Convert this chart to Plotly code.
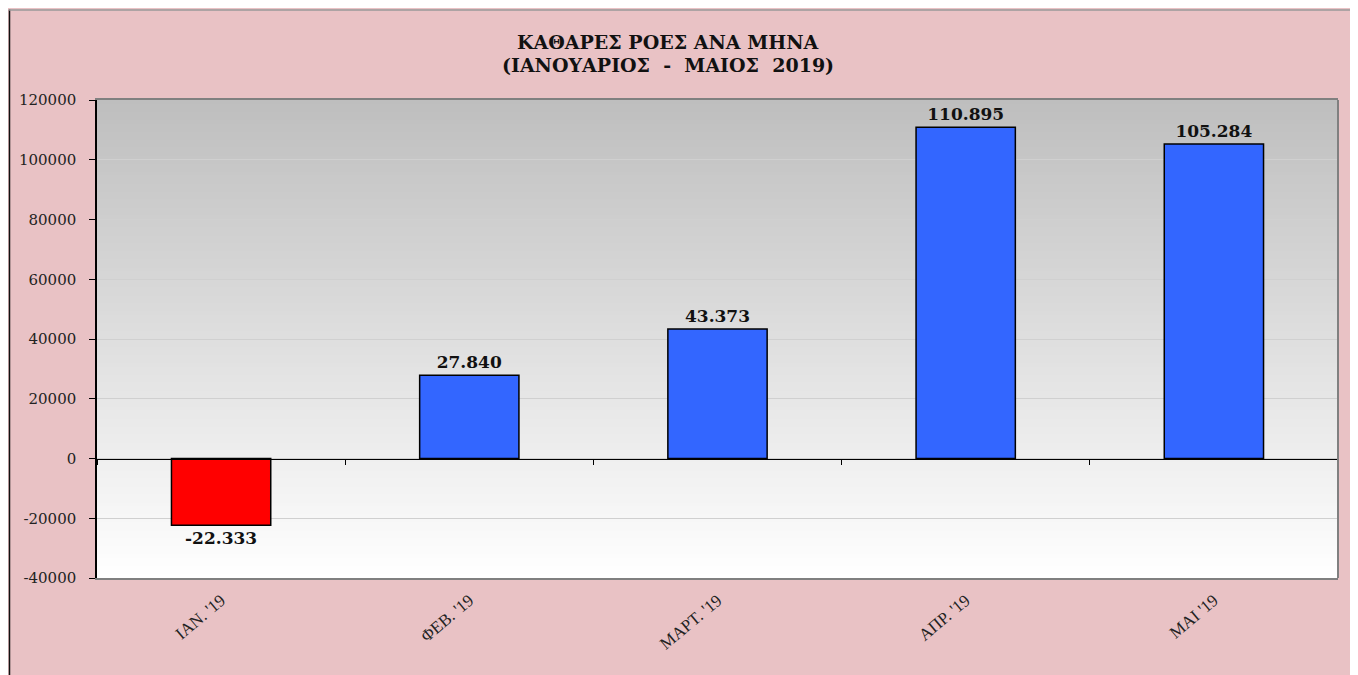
import plotly.graph_objects as go

# ---- data ----
months = ["ΙΑΝ. '19", "ΦΕΒ. '19", "ΜΑΡΤ. '19", "ΑΠΡ. '19", "ΜΑΙ '19"]
net_flows = [-22333, 27840, 43373, 110895, 105284]
y_tick_vals = [-40000, -20000, 0, 20000, 40000, 60000, 80000, 100000, 120000]
y_tick_text = ["-40000", "-20000", "0", "20000", "40000", "60000", "80000", "100000", "120000"]
title_lines = ["ΚΑΘΑΡΕΣ ΡΟΕΣ ΑΝΑ ΜΗΝΑ", "(ΙΑΝΟΥΑΡΙΟΣ  -  ΜΑΙΟΣ  2019)"]

W, H = 1358, 667
ML, MR, MT, MB = 89, 28, 92, 97
PW, PH = W - ML - MR, H - MT - MB

bar_colors = ["#FF0000" if v < 0 else "#3366FF" for v in net_flows]
labels = [f"{v:,}".replace(",", ".") for v in net_flows]

fig = go.Figure()
fig.add_trace(go.Bar(
    x=months, y=net_flows, width=0.4,
    marker=dict(color=bar_colors, line=dict(color="#000000", width=1.5)),
    text=labels, textposition="outside", cliponaxis=False,
    textfont=dict(family="DejaVu Serif", size=17, color="#111111", weight="bold"),
    hoverinfo="x+y", showlegend=False,
))
# invisible helper trace for the zero-line axis with boundary ticks
fig.add_trace(go.Scatter(x=months, y=[None] * len(months), xaxis="x2",
                         mode="markers", showlegend=False, hoverinfo="skip"))

px = lambda p: (p - ML) / PW          # figure px -> paper x
py = lambda p: (H - MB - p) / PH      # figure px -> paper y

shapes = []
# frame lines on the pink background
shapes.append(dict(type="line", xref="paper", yref="paper", layer="below",
                   x0=px(1.5), x1=px(1.5), y0=py(H), y1=py(1.5),
                   line=dict(color="#111111", width=1.5)))
shapes.append(dict(type="line", xref="paper", yref="paper", layer="below",
                   x0=px(1), x1=px(W), y0=py(2), y1=py(2),
                   line=dict(color="#999999", width=1.5)))
# plot-area vertical gradient (grey top -> white bottom)
N = 120
top, bot = (190, 190, 190), (255, 255, 255)
for i in range(N):
    f = (i + 0.5) / N
    c = tuple(round(bot[k] + (top[k] - bot[k]) * f) for k in range(3))
    shapes.append(dict(type="rect", xref="x domain", yref="y domain", layer="below",
                       x0=0, x1=1, y0=i / N, y1=(i + 1) / N + 0.002,
                       fillcolor="rgb(%d,%d,%d)" % c, line=dict(width=0)))
# right border of plot area
shapes.append(dict(type="line", xref="x domain", yref="y domain",
                   x0=1, x1=1, y0=0, y1=1, line=dict(color="#808080", width=2)))

title_font = dict(family="DejaVu Serif", size=19, color="#111111", weight="bold")
annotations = [
    dict(text=title_lines[0], xref="paper", yref="paper", x=px(660), y=py(34),
         xanchor="center", yanchor="middle", showarrow=False, font=title_font),
    dict(text=title_lines[1], xref="paper", yref="paper", x=px(660), y=py(57),
         xanchor="center", yanchor="middle", showarrow=False, font=title_font),
]

fig.update_layout(
    width=W, height=H,
    margin=dict(l=ML, r=MR, t=MT, b=MB),
    paper_bgcolor="#E9C2C5", plot_bgcolor="rgba(0,0,0,0)",
    shapes=shapes, annotations=annotations,
    xaxis=dict(type="category", range=[-0.5, 4.5], showgrid=False,
               showline=True, linecolor="#808080", linewidth=2, mirror=True,
               ticks="", tickangle=-40, ticklabelstandoff=4,
               tickfont=dict(family="Liberation Serif", size=17, color="#222222")),
    xaxis2=dict(type="category", overlaying="x", anchor="free", position=0.25,
                range=[-0.5, 4.5], showgrid=False, showline=True,
                linecolor="#000000", linewidth=1, ticks="outside",
                tickson="boundaries", ticklen=5, tickcolor="#000000",
                showticklabels=False, side="bottom"),
    yaxis=dict(range=[-40000, 120000], tickvals=y_tick_vals, ticktext=y_tick_text,
               showgrid=True, gridcolor="#D0D0D0", gridwidth=1, zeroline=False,
               showline=True, linecolor="#000000", linewidth=1.5,
               ticks="outside", ticklen=6, tickcolor="#000000",
               ticklabelstandoff=10,
               tickfont=dict(family="DejaVu Serif", size=15, color="#222222")),
)

fig.write_html("out.html")
